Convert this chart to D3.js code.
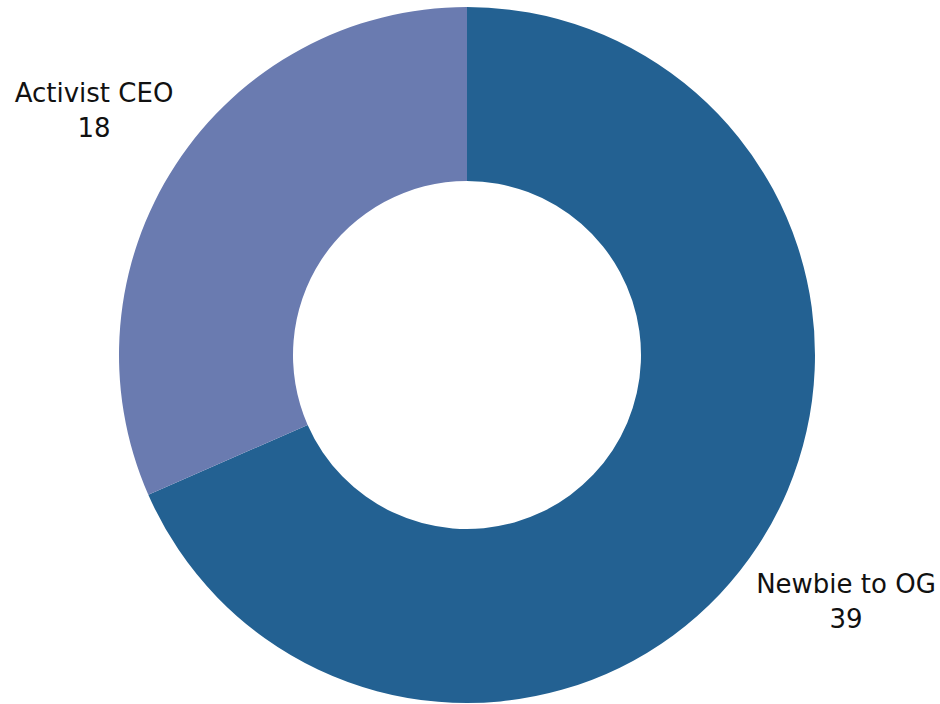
<!DOCTYPE html>
<html>
<head>
<meta charset="utf-8">
<script src="https://cdn.jsdelivr.net/npm/d3@7"></script>
<style>
  html, body { margin: 0; padding: 0; background: #ffffff; }
  svg { display: block; }
</style>
</head>
<body>
<svg id="chart" width="940" height="704"></svg>
<script>
// Segment names and counts, drawn clockwise from 12 o'clock
const categories = ["Newbie to OG", "Activist CEO"];
const values = [39, 18];
const colors = ["#236192", "#6a7bb0"];

const svg = d3.select("#chart");
const cx = 467, cy = 355;
const outerR = 348, innerR = 174;

const pie = d3.pie().sort(null).value(d => d.value);
const arcs = pie(categories.map((c, i) => ({ name: c, value: values[i], color: colors[i] })));

const arc = d3.arc().innerRadius(innerR).outerRadius(outerR);

const g = svg.append("g").attr("transform", `translate(${cx},${cy})`);
g.selectAll("path")
  .data(arcs)
  .join("path")
  .attr("d", arc)
  .attr("fill", d => d.data.color);

// Labels sit outside the ring, next to each slice
const labelPos = [
  { x: 846, y: 593 },
  { x: 94, y: 102 }
];
const lineGap = 35;
const font = "'DejaVu Sans', sans-serif";
const fontSize = 26;

const labels = svg.selectAll("g.label")
  .data(arcs)
  .join("g")
  .attr("class", "label")
  .attr("transform", (d, i) => `translate(${labelPos[i].x},${labelPos[i].y})`);

labels.append("text")
  .attr("text-anchor", "middle")
  .attr("font-family", font)
  .attr("font-size", fontSize)
  .attr("fill", "#111111")
  .text(d => d.data.name);

labels.append("text")
  .attr("text-anchor", "middle")
  .attr("y", lineGap)
  .attr("font-family", font)
  .attr("font-size", fontSize)
  .attr("fill", "#111111")
  .text(d => d.value);
</script>
</body>
</html>
